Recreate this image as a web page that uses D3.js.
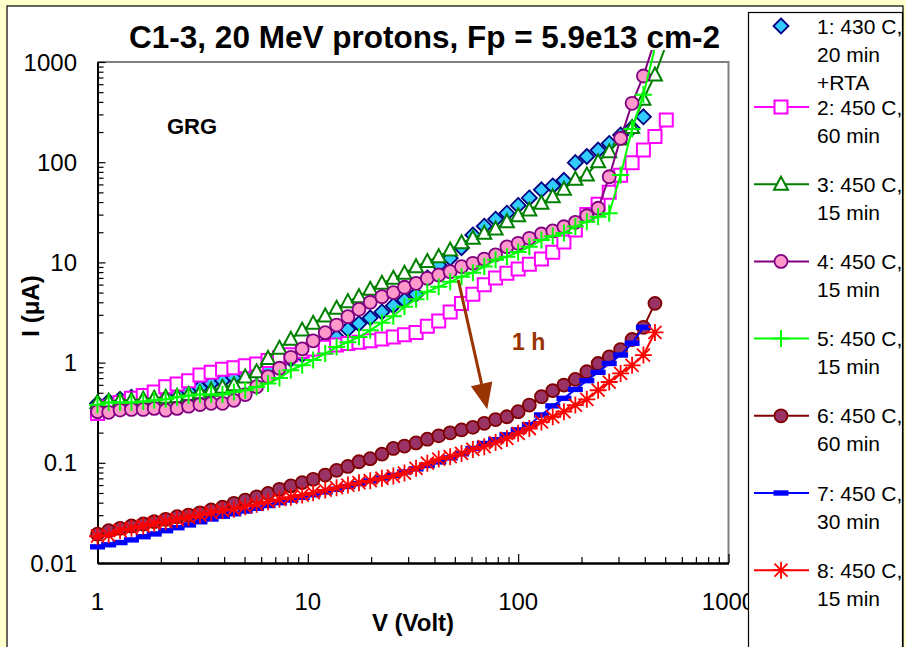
<!DOCTYPE html>
<html><head><meta charset="utf-8">
<script src="https://cdn.jsdelivr.net/npm/d3@7"></script>
<style>
body{margin:0;background:#FFFFCC;}
svg{display:block;font-family:Arial,"Liberation Sans",sans-serif;}
</style>
</head><body>
<svg id="chart" width="906" height="647"></svg>
<script>
// ---------------- DATA ----------------
const voltage = [1, 1.13, 1.28, 1.45, 1.65, 1.86, 2.11, 2.39, 2.71, 3.07, 3.47, 3.93, 4.45, 5.04, 5.71, 6.47, 7.33, 8.30, 9.40, 10.6, 12.1, 13.7, 15.5, 17.5, 19.8, 22.5, 25.5, 28.8, 32.7, 37.0, 41.9, 47.5, 53.8, 60.9, 69.0, 78.1, 88.4, 100, 113, 129, 146, 165, 187, 212, 240, 271, 307, 348, 394, 447, 506];

const cur1 = [0.39, 0.41, 0.43, 0.45, 0.46, 0.47, 0.48, 0.50, 0.52, 0.56, 0.62, 0.66, 0.71, 0.76, 0.82, 0.88, 0.97, 1.08, 1.2, 1.35, 1.55, 1.8, 2.15, 2.45, 2.8, 3.2, 3.7, 4.2, 4.8, 7.0, 9.4, 11.0, 14.0, 18.8, 23, 27, 31, 37, 44, 53, 58, 66, 99, 114, 132, 154, 187, 220, 284];
const cur2 = [0.31, 0.36, 0.40, 0.44, 0.47, 0.51, 0.575, 0.61, 0.66, 0.75, 0.80, 0.86, 0.89, 0.93, 0.97, 1.05, 1.12, 1.2, 1.3, 1.37, 1.42, 1.5, 1.55, 1.6, 1.65, 1.72, 1.8, 1.9, 2.0, 2.3, 2.6, 3.2, 3.9, 4.8, 6.0, 7.0, 7.8, 8.6, 9.6, 10.8, 12.6, 16, 21, 30, 38, 50, 74, 99, 132, 180, 264];
const cur3 = [0.40, 0.41, 0.42, 0.42, 0.43, 0.44, 0.45, 0.46, 0.48, 0.50, 0.53, 0.567, 0.60, 0.72, 0.81, 1.10, 1.39, 1.71, 2.11, 2.47, 2.92, 3.48, 4.06, 4.55, 5.39, 6.18, 6.94, 7.78, 9.06, 10.2, 11.4, 13.3, 15.7, 17.4, 19.5, 21.5, 25.5, 29.2, 33.3, 38.9, 45.3, 53.7, 67.5, 74.5, 101, 127, 170, 222, 425, 741, 1500];
const cur4 = [0.324, 0.319, 0.336, 0.341, 0.341, 0.349, 0.335, 0.349, 0.367, 0.382, 0.392, 0.392, 0.42, 0.48, 0.575, 0.723, 0.878, 1.13, 1.37, 1.65, 1.99, 2.37, 2.87, 3.40, 4.00, 4.55, 4.99, 5.65, 6.18, 6.94, 7.49, 8.08, 9.06, 9.80, 10.8, 11.9, 14.3, 15.5, 17.4, 19.2, 20.6, 22.7, 25.1, 29.2, 34.7, 71.6, 173, 387, 725, 1660];
const cur5 = [0.38, 0.40, 0.40, 0.40, 0.41, 0.42, 0.43, 0.45, 0.47, 0.48, 0.48, 0.48, 0.51, 0.53, 0.57, 0.62, 0.70, 0.84, 0.94, 1.06, 1.23, 1.43, 1.6, 1.8, 2.1, 2.5, 2.9, 3.6, 4.3, 5.1, 5.7, 6.4, 7.2, 7.9, 9.1, 10.6, 11.4, 12.7, 14.3, 16.7, 18.3, 19.7, 22.8, 25.5, 28.5, 30.9, 74.5, 215, 472, 1400];
const cur6 = [0.0194, 0.0210, 0.0222, 0.0234, 0.0245, 0.0258, 0.0273, 0.0290, 0.0301, 0.0317, 0.0338, 0.036, 0.0394, 0.0425, 0.0458, 0.0495, 0.0544, 0.0588, 0.0634, 0.0684, 0.0755, 0.084, 0.092, 0.1025, 0.110, 0.122, 0.139, 0.147, 0.158, 0.172, 0.186, 0.199, 0.213, 0.226, 0.248, 0.27, 0.288, 0.324, 0.377, 0.457, 0.525, 0.597, 0.68, 0.81, 0.98, 1.14, 1.35, 1.70, 2.25, 3.9];
const cur7 = [0.0145, 0.0152, 0.0160, 0.0170, 0.0183, 0.0195, 0.0210, 0.0225, 0.0240, 0.0258, 0.0275, 0.0293, 0.0310, 0.0330, 0.0352, 0.0375, 0.0400, 0.0425, 0.0452, 0.0480, 0.0512, 0.0545, 0.0580, 0.0620, 0.0660, 0.0705, 0.0750, 0.0810, 0.087, 0.094, 0.102, 0.112, 0.123, 0.139, 0.156, 0.17, 0.19, 0.213, 0.24, 0.30, 0.37, 0.44, 0.54, 0.66, 0.80, 0.98, 1.19, 1.56, 2.25];
const cur8 = [0.0185, 0.019, 0.021, 0.0222, 0.0234, 0.0249, 0.0258, 0.0273, 0.0286, 0.0301, 0.0318, 0.0333, 0.0344, 0.0365, 0.0385, 0.0409, 0.0432, 0.0453, 0.0477, 0.0503, 0.0535, 0.0564, 0.060, 0.0633, 0.0663, 0.0701, 0.0738, 0.079, 0.088, 0.099, 0.109, 0.115, 0.124, 0.136, 0.145, 0.159, 0.175, 0.197, 0.22, 0.256, 0.288, 0.324, 0.377, 0.43, 0.53, 0.64, 0.78, 0.94, 1.19, 2.0];

const legendLabels = [
  ["1: 430 C,", "20 min", "+RTA"],
  ["2: 450 C,", "60 min"],
  ["3: 450 C,", "15 min"],
  ["4: 450 C,", "15 min"],
  ["5: 450 C,", "15 min"],
  ["6: 450 C,", "60 min"],
  ["7: 450 C,", "30 min"],
  ["8: 450 C,", "15 min"]
];
const xTickValues = [1, 10, 100, 1000];
const xTickLabels = ["1", "10", "100", "1000"];
const yTickValues = [0.01, 0.1, 1, 10, 100, 1000];
const yTickLabels = ["0.01", "0.1", "1", "10", "100", "1000"];
const titleText = "C1-3, 20 MeV protons, Fp = 5.9e13 cm-2";
const xTitle = "V (Volt)";
const annotationGRG = "GRG";
const annotationArrow = {text: "1 h", from: [51.9, 6.67], to: [71.3, 0.342]};

// ---------------- SETUP ----------------
const svg = d3.select("#chart");
const L = 97.5, R = 728.5, T = 62, B = 563;
const x = d3.scaleLog().domain([1, 1000]).range([L, R]);
const y = d3.scaleLog().domain([0.01, 1000]).range([B, T]);

svg.append("rect").attr("x", 7).attr("y", 6).attr("width", 896).attr("height", 660)
  .attr("fill", "#fff").attr("stroke", "#000").attr("stroke-width", 1.2);

svg.append("path").attr("d", `M${L},${T}H${R}V${B}`).attr("fill", "none")
  .attr("stroke", "#808080").attr("stroke-width", 2);

const minorX = [], minorY = [];
for (let e = 0; e < 3; e++) for (let m = 2; m <= 9; m++) minorX.push(m * Math.pow(10, e));
for (let e = -2; e < 3; e++) for (let m = 2; m <= 9; m++) minorY.push(m * Math.pow(10, e));

const gx = svg.append("g").attr("transform", `translate(0,${B})`);
gx.call(d3.axisBottom(x).tickValues(minorX).tickSize(-6).tickSizeOuter(0).tickFormat(""));
gx.append("g").call(d3.axisBottom(x).tickValues(xTickValues).tickSize(-9).tickSizeOuter(0).tickFormat(""));
const gy = svg.append("g").attr("transform", `translate(${L},0)`);
gy.call(d3.axisLeft(y).tickValues(minorY).tickSize(-6).tickSizeOuter(0).tickFormat(""));
gy.append("g").call(d3.axisLeft(y).tickValues(yTickValues).tickSize(-8).tickSizeOuter(0).tickFormat(""));
svg.selectAll(".domain").attr("stroke", "#000").attr("stroke-width", 2);
svg.selectAll(".tick line").attr("stroke", "#000").attr("stroke-width", 1.2);

svg.append("g").selectAll("text").data(yTickValues).join("text")
  .attr("x", 77).attr("y", d => y(d) + 8.5).attr("text-anchor", "end")
  .attr("font-size", 24).attr("fill", "#000").text((d, i) => yTickLabels[i]);
svg.append("g").selectAll("text").data(xTickValues).join("text")
  .attr("x", d => x(d)).attr("y", 610).attr("text-anchor", "middle")
  .attr("font-size", 24).attr("fill", "#000").text((d, i) => xTickLabels[i]);

svg.append("text").attr("x", 424.5).attr("y", 48).attr("text-anchor", "middle")
  .attr("font-size", 31.5).attr("font-weight", "bold").text(titleText);
svg.append("text").attr("x", 413).attr("y", 631).attr("text-anchor", "middle")
  .attr("font-size", 24).attr("font-weight", "bold").text(xTitle);
svg.append("text").attr("transform", "translate(39,306) rotate(-90)").attr("text-anchor", "middle")
  .attr("font-size", 24).attr("font-weight", "bold")
  .text("I (μA)");

svg.append("text").attr("x", 167).attr("y", 134).attr("font-size", 22).attr("font-weight", "bold").text(annotationGRG);

// ---------------- SERIES ----------------
const shapes = {
  diamond: "M0,-7.5L7.5,0L0,7.5L-7.5,0Z",
  square: "M-6.5,-6.5H6.5V6.5H-6.5Z",
  triangle: "M0,-7.5L7,5.5L-7,5.5Z",
  plus: "M-8.5,0H8.5M0,-8.5V8.5",
  star: "M-8.5,0H8.5M0,-8.5V8.5M-6.5,-6.5L6.5,6.5M-6.5,6.5L6.5,-6.5",
  dash: "M-7.5,-2.7H7.5V2.7H-7.5Z"
};
const series = [
  {vals: cur1, line: null, shape: "diamond", fill: "#33CCFF", stroke: "#000080", sw: 1.8},
  {vals: cur2, line: "#FF00FF", shape: "square", fill: "#fff", stroke: "#FF00FF", sw: 2},
  {vals: cur3, line: "#008000", shape: "triangle", fill: "#fff", stroke: "#008000", sw: 2},
  {vals: cur4, line: "#800080", shape: "circle", fill: "#FF99CC", stroke: "#800080", sw: 1.8},
  {vals: cur5, line: "#00FF00", shape: "plus", fill: "none", stroke: "#00FF00", sw: 2},
  {vals: cur6, line: "#800000", shape: "circle", fill: "#993366", stroke: "#800000", sw: 1.8},
  {vals: cur7, line: "#0000FF", shape: "dash", fill: "#0000FF", stroke: "none", sw: 0},
  {vals: cur8, line: "#FF0000", shape: "star", fill: "none", stroke: "#FF0000", sw: 1.8}
];

svg.append("defs").append("clipPath").attr("id", "lineclip")
  .append("rect").attr("x", L).attr("y", 50).attr("width", R - L).attr("height", B - 50);

const lineGen = d3.line().x(d => x(d.v)).y(d => y(d.i));

function drawMarker(g, s, cx, cy) {
  if (s.shape === "circle") {
    g.append("circle").attr("cx", cx).attr("cy", cy).attr("r", 6.5)
      .attr("fill", s.fill).attr("stroke", s.stroke).attr("stroke-width", s.sw);
  } else {
    g.append("path").attr("d", shapes[s.shape]).attr("transform", `translate(${cx},${cy})`)
      .attr("fill", s.fill).attr("stroke", s.stroke).attr("stroke-width", s.sw);
  }
}

series.forEach(s => {
  const pts = s.vals.map((v, k) => ({v: voltage[k], i: v}));
  const g = svg.append("g");
  if (s.line) {
    g.append("path").datum(pts).attr("d", lineGen).attr("fill", "none")
      .attr("stroke", s.line).attr("stroke-width", 2).attr("clip-path", "url(#lineclip)");
  }
  pts.filter(p => p.i <= 1000).forEach(p => drawMarker(g, s, x(p.v), y(p.i)));
});

// arrow annotation
const a = annotationArrow;
const ax1 = x(a.from[0]), ay1 = y(a.from[1]), ax2 = x(a.to[0]), ay2 = y(a.to[1]);
const ang = Math.atan2(ay2 - ay1, ax2 - ax1);
const hl = 26, hw = 11;
const bx = ax2 - hl * Math.cos(ang), by = ay2 - hl * Math.sin(ang);
svg.append("line").attr("x1", ax1).attr("y1", ay1).attr("x2", bx).attr("y2", by)
  .attr("stroke", "#993300").attr("stroke-width", 3);
svg.append("path").attr("d", `M${ax2},${ay2}L${bx + hw * Math.sin(ang)},${by - hw * Math.cos(ang)}L${bx - hw * Math.sin(ang)},${by + hw * Math.cos(ang)}Z`)
  .attr("fill", "#993300");
svg.append("text").attr("x", 512).attr("y", 350).attr("font-size", 23).attr("font-weight", "bold")
  .attr("fill", "#993300").text(a.text);

// ---------------- LEGEND ----------------
const lg = svg.append("g");
lg.append("rect").attr("x", 748.5).attr("y", 12.5).attr("width", 154).attr("height", 700)
  .attr("fill", "#fff").attr("stroke", "#000").attr("stroke-width", 1.2);
legendLabels.forEach((lines, i) => {
  const cy = i === 0 ? 26 : 107 + 77.2 * (i - 1);
  const s = series[i];
  if (s.line) lg.append("line").attr("x1", 754).attr("x2", 809).attr("y1", cy).attr("y2", cy)
    .attr("stroke", s.line).attr("stroke-width", 2);
  drawMarker(lg, s, 781, cy);
  lines.forEach((t, j) => {
    lg.append("text").attr("x", 817).attr("y", cy + 28 * j + 7.5).attr("font-size", 21).text(t);
  });
});
</script>
</body></html>
